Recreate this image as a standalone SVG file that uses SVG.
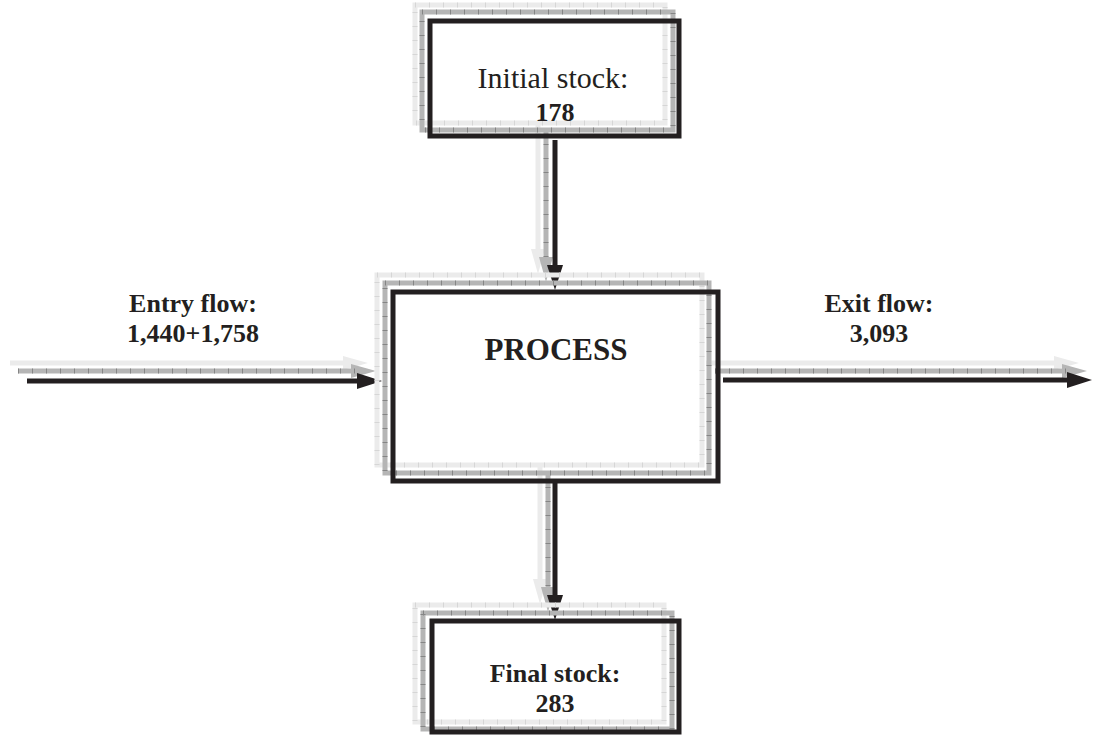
<svg xmlns="http://www.w3.org/2000/svg" width="1093" height="735" viewBox="0 0 1093 735">
<style>
.lt{fill:none;stroke:#ebebeb;stroke-width:5}
.lt2{fill:none;stroke:#d6d6d6;stroke-width:5;stroke-dasharray:1 13}
.md{fill:none;stroke:#b5b5b5;stroke-width:5}
.md2{fill:none;stroke:#858585;stroke-width:5;stroke-dasharray:1 13}
.bk{fill:none;stroke:#231f20;stroke-width:5}
.t{font-family:"Liberation Serif","Times New Roman",serif;fill:#231f20;text-anchor:middle}
.b{font-weight:bold;font-size:26px}
</style>
<defs>
<marker id="hb" markerUnits="userSpaceOnUse" markerWidth="26" markerHeight="16" refX="6" refY="8" orient="auto"><path d="M0,0 L25,8 L0,16 z" fill="#231f20"/></marker>
<marker id="hm" markerUnits="userSpaceOnUse" markerWidth="26" markerHeight="16" refX="6" refY="8" orient="auto"><path d="M0,1 L25,8 L0,15 z" fill="#b5b5b5"/></marker>
<marker id="hl" markerUnits="userSpaceOnUse" markerWidth="26" markerHeight="16" refX="6" refY="8" orient="auto"><path d="M0,1 L25,8 L0,15 z" fill="#ebebeb"/></marker>
</defs>
<g id="connectors">
<g id="c-initial-process">
<line x1="538" y1="124" x2="538" y2="255" class="lt" marker-end="url(#hl)"/>
<line x1="546" y1="130" x2="546" y2="263" class="md" marker-end="url(#hm)"/>
<line x1="546" y1="130" x2="546" y2="263" class="md2"/>
<line x1="555" y1="140" x2="555" y2="271" class="bk" marker-end="url(#hb)"/>
</g>
<g id="c-process-final">
<line x1="540" y1="465" x2="540" y2="585" class="lt" marker-end="url(#hl)"/>
<line x1="548" y1="473" x2="548" y2="593" class="md" marker-end="url(#hm)"/>
<line x1="548" y1="473" x2="548" y2="593" class="md2"/>
<line x1="555" y1="481" x2="555" y2="601" class="bk" marker-end="url(#hb)"/>
</g>
<g id="c-entry">
<line x1="10" y1="363" x2="349" y2="363" class="lt" marker-end="url(#hl)"/>
<line x1="18" y1="371" x2="357" y2="371" class="md" marker-end="url(#hm)"/>
<line x1="18" y1="371" x2="357" y2="371" class="md2"/>
<line x1="27" y1="381" x2="363" y2="381" class="bk" marker-end="url(#hb)"/>
</g>
<g id="c-exit">
<line x1="706" y1="363" x2="1060" y2="363" class="lt" marker-end="url(#hl)"/>
<line x1="715" y1="371" x2="1068" y2="371" class="md" marker-end="url(#hm)"/>
<line x1="715" y1="371" x2="1068" y2="371" class="md2"/>
<line x1="723" y1="380" x2="1073" y2="380" class="bk" marker-end="url(#hb)"/>
</g>
</g>
<g id="initial-stock">
<rect x="415" y="5" width="250" height="118" class="lt"/>
<rect x="415" y="5" width="250" height="118" class="lt2"/>
<rect x="422" y="12" width="251" height="118" class="md"/>
<rect x="422" y="12" width="251" height="118" class="md2"/>
<rect x="430" y="21" width="249" height="115" class="bk"/>
<text x="553" y="88" class="t" font-size="30">Initial stock:</text>
<text x="555" y="121" class="t b">178</text>
</g>
<g id="process">
<rect x="377" y="275" width="325" height="190" class="lt"/>
<rect x="377" y="275" width="325" height="190" class="lt2"/>
<rect x="385" y="283" width="324" height="190" class="md"/>
<rect x="385" y="283" width="324" height="190" class="md2"/>
<rect x="393" y="292" width="325" height="189" class="bk"/>
<text x="556" y="360" class="t" font-size="31" font-weight="bold">PROCESS</text>
</g>
<g id="entry-flow">
<text x="193" y="312" class="t b">Entry flow:</text>
<text x="193" y="342" class="t b">1,440+1,758</text>
</g>
<g id="exit-flow">
<text x="879" y="312" class="t b">Exit flow:</text>
<text x="879" y="342" class="t b">3,093</text>
</g>
<g id="final-stock">
<rect x="415" y="605" width="249" height="117" class="lt"/>
<rect x="415" y="605" width="249" height="117" class="lt2"/>
<rect x="423" y="613" width="249" height="116" class="md"/>
<rect x="423" y="613" width="249" height="116" class="md2"/>
<rect x="432" y="621" width="247" height="111" class="bk"/>
<text x="555" y="682" class="t b">Final stock:</text>
<text x="555" y="712" class="t b">283</text>
</g>
</svg>
